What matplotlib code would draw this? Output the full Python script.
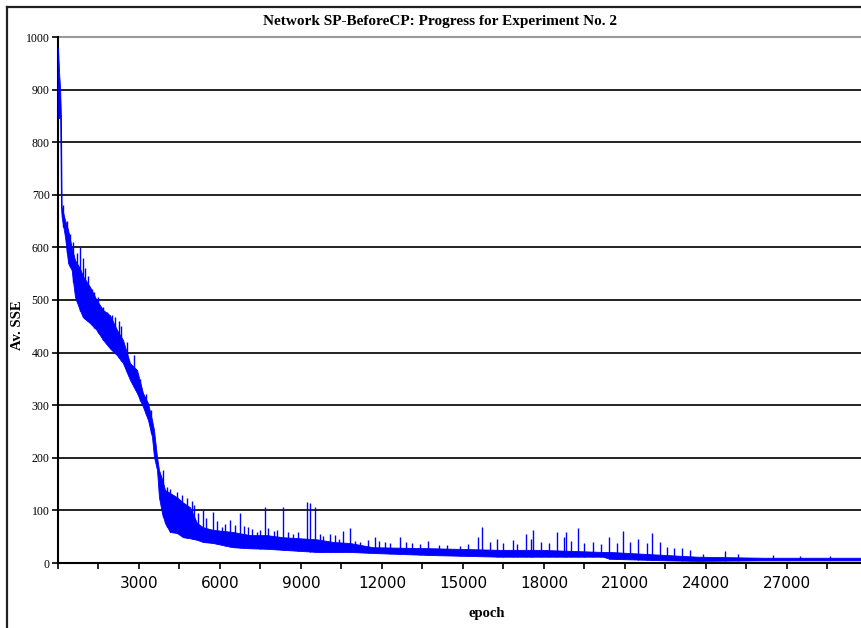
import numpy as np
import matplotlib
matplotlib.use("Agg")
import matplotlib.pyplot as plt
from matplotlib.lines import Line2D

# envelope of the noisy training curve
band_epoch = [0, 40, 80, 110, 136, 260, 375, 506, 630, 815, 930, 1185, 1430, 1670,
              1925, 2185, 2407, 2667, 2926, 3148, 3333, 3481, 3555, 3667, 3740, 3852,
              3963, 4148, 4407, 4630, 4889, 5148, 5370, 5740, 6480, 7110, 7740, 8330,
              8960, 9590, 10190, 10810, 11670, 13890, 16370, 17850, 20180, 20440,
              22590, 23670, 26110, 29780]
band_high = [980, 933, 900, 846, 677, 652, 633, 600, 576, 560, 545, 525, 500, 481,
             471, 443, 424, 380, 367, 323, 304, 272, 253, 202, 177, 160,
             139, 133, 125, 115, 106, 76, 68, 63, 59, 53, 53, 49,
             47, 45, 40, 38, 30, 28, 25, 25, 21, 21,
             15, 12, 10, 10]
band_low = [846, 846, 846, 677, 658, 620, 570, 557, 506, 480, 467, 456, 443, 424,
            408, 395, 380, 348, 323, 297, 272, 240, 202, 177, 125, 95,
            76, 59, 57, 49, 47, 44, 40, 38, 30, 28, 27, 25,
            23, 21, 21, 21, 19, 15, 12, 12, 12, 8,
            5, 4, 5, 5]

# isolated spikes above the band
spike_epoch = [200, 330, 450, 560, 700, 815, 930, 1000, 1100, 1250, 1350, 1500,
               1670, 1800, 2000, 2100, 2250, 2350, 2550, 2800, 3050, 3250, 3450,
               3900, 4050, 4150, 4260, 4400, 4590, 4770, 4950, 5050, 5200,
               5370, 5500, 5740, 5900, 6070, 6200, 6370, 6550, 6740, 6900, 7040,
               7200, 7370, 7500, 7670, 7780, 8000, 8110, 8330,
               8520, 8700, 8900, 9220, 9330, 9520, 9700, 9810, 10070, 10260, 10400,
               10560, 10810, 11000, 11200, 11480, 11740, 11900, 12100, 12300, 12670,
               12900, 13100, 13400, 13700, 14100, 14400, 14900, 15200, 15550,
               15700, 16000, 16260, 16500, 16850, 17000, 17330, 17520, 17600,
               17900, 18200, 18480, 18740, 18820, 19000, 19260, 19500, 19800,
               20100, 20410, 20700, 20930, 21200, 21500, 21800, 22000, 22300,
               22560, 22800, 23110, 23400, 23900, 24700, 25200, 26500, 27500, 28600]
spike_value = [680, 650, 625, 610, 590, 600, 580, 560, 545, 520, 515, 505,
               487, 478, 472, 468, 460, 450, 420, 395, 350, 322, 290,
               177, 145, 140, 129, 135, 130, 124, 118, 110, 95,
               101, 85, 97, 80, 68, 75, 82, 72, 95, 70, 68,
               65, 59, 62, 106, 66, 60, 63, 106,
               59, 55, 58, 116, 114, 106, 55, 51, 55, 53, 45,
               61, 66, 42, 40, 44, 49, 42, 40, 38, 49,
               40, 38, 36, 42, 35, 34, 33, 36, 49,
               68, 40, 46, 38, 44, 36, 55, 46, 63,
               40, 38, 59, 49, 59, 42, 66, 38, 40,
               36, 49, 38, 61, 40, 45, 38, 57, 40,
               30, 28, 28, 25, 18, 23, 17, 15, 14, 13]

y_ticks = list(range(0, 1001, 100))
x_ticks = list(range(0, 29781, 1500))
x_labels = [str(t) if t % 3000 == 0 and t > 0 else '' for t in x_ticks]

fig = plt.figure(figsize=(8.62, 6.28), dpi=100)
ax = fig.add_axes([58 / 862, 65 / 628, 804 / 862, 526 / 628])

blue = '#0000ff'
ax.fill_between(band_epoch, band_low, band_high, color=blue, lw=0.6, zorder=3)
base = np.interp(spike_epoch, band_epoch, band_low)
ax.vlines(spike_epoch, base, spike_value, color=blue, lw=1.0, zorder=3)

ax.set_xlim(0, 29780)
ax.set_ylim(0, 1000)

ax.set_yticks(y_ticks)
ax.set_yticklabels([str(v) for v in y_ticks], family='Liberation Serif', fontsize=8.5)
ax.set_xticks(x_ticks)
ax.set_xticklabels(x_labels, family='DejaVu Sans', fontsize=11)
ax.tick_params(direction='out', length=4, width=1.2, color='black')
ax.tick_params(axis='y', pad=2)
ax.tick_params(axis='x', pad=5)

for y in y_ticks[1:-1]:
    ax.axhline(y, color='#111111', lw=1.3, zorder=1)
ax.axhline(1000, color='#999999', lw=1.5, zorder=1, clip_on=False)

for s in ['top', 'right']:
    ax.spines[s].set_visible(False)
for s in ['left', 'bottom']:
    ax.spines[s].set_linewidth(1.5)
    ax.spines[s].set_color('black')
    ax.spines[s].set_zorder(2.5)

# outer chart frame
fig.add_artist(Line2D([7 / 862, 7 / 862], [0, 1 - 7 / 628], transform=fig.transFigure,
                      color='#222222', lw=1.6))
fig.add_artist(Line2D([7 / 862, 1], [1 - 7 / 628, 1 - 7 / 628], transform=fig.transFigure,
                      color='#222222', lw=1.6))

fig.text(440 / 862, 1 - 22 / 628, 'Network SP-BeforeCP: Progress for Experiment No. 2',
         ha='center', va='center', family='Liberation Serif', weight='bold', fontsize=11)
fig.text(18 / 862, 1 - 325 / 628, 'Av. SSE', rotation=90, ha='center', va='center',
         family='Liberation Serif', weight='bold', fontsize=10.5)
fig.text(487 / 862, 1 - 614 / 628, 'epoch', ha='center', va='center',
         family='Liberation Serif', weight='bold', fontsize=10.5)

fig.savefig('out.png', dpi=100)
